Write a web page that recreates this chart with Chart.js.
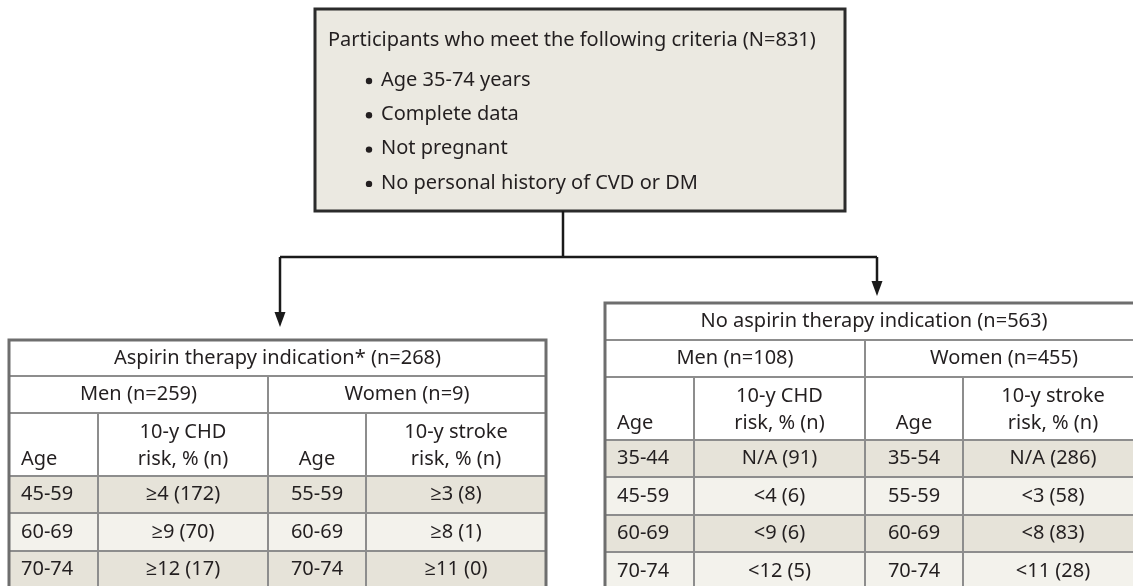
<!DOCTYPE html>
<html>
<head>
<meta charset="utf-8">
<script src="https://cdn.jsdelivr.net/npm/chart.js@4"></script>
<style>
  html, body { margin: 0; padding: 0; background: #fff; }
  #wrap { width: 1133px; height: 586px; position: relative; }
</style>
</head>
<body>
<div id="wrap"><canvas id="chart"></canvas></div>
<script>
// ---- data ----
var criteriaTitle = 'Participants who meet the following criteria (N=831)';
var criteria = ['Age 35-74 years', 'Complete data', 'Not pregnant', 'No personal history of CVD or DM'];

var colHeads = [['Age'], ['10-y CHD', 'risk, % (n)'], ['Age'], ['10-y stroke', 'risk, % (n)']];

var leftTitle = 'Aspirin therapy indication* (n=268)';
var leftGroups = ['Men (n=259)', 'Women (n=9)'];
var leftMenAge = ['45-59', '60-69', '70-74'];
var leftMenRisk = ['\u22654 (172)', '\u22659 (70)', '\u226512 (17)'];
var leftWomenAge = ['55-59', '60-69', '70-74'];
var leftWomenRisk = ['\u22653 (8)', '\u22658 (1)', '\u226511 (0)'];

var rightTitle = 'No aspirin therapy indication (n=563)';
var rightGroups = ['Men (n=108)', 'Women (n=455)'];
var rightMenAge = ['35-44', '45-59', '60-69', '70-74'];
var rightMenRisk = ['N/A (91)', '<4 (6)', '<9 (6)', '<12 (5)'];
var rightWomenAge = ['35-54', '55-59', '60-69', '70-74'];
var rightWomenRisk = ['N/A (286)', '<3 (58)', '<8 (83)', '<11 (28)'];

// ---- layout (figure units, y grows downward) ----
var FONT = '20px "Noto Sans", "Open Sans", sans-serif';
var INK = '#231f20';
var topBox = {x0: 315, x1: 845, y0: 9, y1: 211};
var leftTable = {xs: [9, 98, 268, 366, 546], ys: [340, 376, 413, 476, 513, 551, 588]};
var rightTable = {xs: [605, 694, 865, 963, 1143], ys: [303, 340, 377, 440, 477, 515, 552, 590]};

var flowPlugin = {
  id: 'flow',
  afterDraw: function(chart) {
    var ctx = chart.ctx;
    var sx = chart.scales.x, sy = chart.scales.y;
    var X = function(v) { return sx.getPixelForValue(v); };
    var Y = function(v) { return sy.getPixelForValue(v); };

    function text(s, x, y, align) {
      ctx.fillStyle = INK;
      ctx.font = FONT;
      ctx.textAlign = align || 'left';
      ctx.textBaseline = 'middle';
      ctx.fillText(s, X(x), Y(y));
    }
    function rect(x0, y0, x1, y1, fill) {
      ctx.fillStyle = fill;
      ctx.fillRect(X(x0), Y(y0), X(x1) - X(x0), Y(y1) - Y(y0));
    }
    function line(pts, color, w) {
      ctx.strokeStyle = color;
      ctx.lineWidth = w;
      ctx.beginPath();
      pts.forEach(function(p, i) {
        if (i == 0) ctx.moveTo(X(p[0]), Y(p[1]));
        else ctx.lineTo(X(p[0]), Y(p[1]));
      });
      ctx.stroke();
    }
    function arrowHead(x, tipY) {
      ctx.fillStyle = '#1a1a1a';
      ctx.beginPath();
      ctx.moveTo(X(x), Y(tipY));
      ctx.lineTo(X(x - 5.5), Y(tipY - 15));
      ctx.lineTo(X(x + 5.5), Y(tipY - 15));
      ctx.closePath();
      ctx.fill();
    }

    // top box
    rect(topBox.x0, topBox.y0, topBox.x1, topBox.y1, '#ebe9e1');
    ctx.strokeStyle = '#2b2b2b';
    ctx.lineWidth = 3;
    ctx.strokeRect(X(topBox.x0), Y(topBox.y0), X(topBox.x1) - X(topBox.x0), Y(topBox.y1) - Y(topBox.y0));
    text(criteriaTitle, 328, 40);
    criteria.forEach(function(c, i) {
      var y = 80 + i * 34.3;
      ctx.fillStyle = INK;
      ctx.beginPath();
      ctx.arc(X(369), Y(y + 1), 3.2, 0, Math.PI * 2);
      ctx.fill();
      text(c, 381, y);
    });

    // connectors
    line([[563, 211], [563, 257]], '#1a1a1a', 2.5);
    line([[280, 257], [877, 257]], '#1a1a1a', 2.5);
    line([[280, 257], [280, 314]], '#1a1a1a', 2.5);
    line([[877, 257], [877, 283]], '#1a1a1a', 2.5);
    arrowHead(280, 327);
    arrowHead(877, 296);

    // tables
    function table(t, title, groups, menAge, menRisk, womenAge, womenRisk) {
      var xs = t.xs, ys = t.ys;
      var n = menAge.length;
      var xL = xs[0], xR = xs[4];
      rect(xL, ys[0], xR, ys[3], '#ffffff');
      for (var i = 0; i < n; i++) {
        rect(xL, ys[3 + i], xR, ys[4 + i], i % 2 == 0 ? '#e6e3d9' : '#f3f2ec');
      }
      // inner grid
      var g = '#8d8d8d';
      line([[xL, ys[1]], [xR, ys[1]]], g, 2);
      line([[xL, ys[2]], [xR, ys[2]]], g, 2);
      for (var r = 3; r < ys.length - 1; r++) line([[xL, ys[r]], [xR, ys[r]]], g, 2);
      line([[xs[2], ys[1]], [xs[2], ys[ys.length - 1]]], g, 2);
      line([[xs[1], ys[2]], [xs[1], ys[ys.length - 1]]], g, 2);
      line([[xs[3], ys[2]], [xs[3], ys[ys.length - 1]]], g, 2);
      // outer border
      ctx.strokeStyle = '#6e6e6e';
      ctx.lineWidth = 3;
      ctx.strokeRect(X(xL), Y(ys[0]), X(xR) - X(xL), Y(ys[ys.length - 1]) - Y(ys[0]));

      // texts
      text(title, (xL + xR) / 2, (ys[0] + ys[1]) / 2, 'center');
      text(groups[0], (xs[0] + xs[2]) / 2, (ys[1] + ys[2]) / 2, 'center');
      text(groups[1], (xs[2] + xs[4]) / 2, (ys[1] + ys[2]) / 2, 'center');
      var hb = ys[3] - 17, ht = ys[3] - 44;
      text(colHeads[0][0], xL + 12, hb);
      text(colHeads[1][0], (xs[1] + xs[2]) / 2, ht, 'center');
      text(colHeads[1][1], (xs[1] + xs[2]) / 2, hb, 'center');
      text(colHeads[2][0], (xs[2] + xs[3]) / 2, hb, 'center');
      text(colHeads[3][0], (xs[3] + xs[4]) / 2, ht, 'center');
      text(colHeads[3][1], (xs[3] + xs[4]) / 2, hb, 'center');
      for (var k = 0; k < n; k++) {
        var cy = (ys[3 + k] + ys[4 + k]) / 2;
        text(menAge[k], xL + 12, cy);
        text(menRisk[k], (xs[1] + xs[2]) / 2, cy, 'center');
        text(womenAge[k], (xs[2] + xs[3]) / 2, cy, 'center');
        text(womenRisk[k], (xs[3] + xs[4]) / 2, cy, 'center');
      }
    }
    table(leftTable, leftTitle, leftGroups, leftMenAge, leftMenRisk, leftWomenAge, leftWomenRisk);
    table(rightTable, rightTitle, rightGroups, rightMenAge, rightMenRisk, rightWomenAge, rightWomenRisk);
  }
};

new Chart(document.getElementById('chart'), {
  type: 'scatter',
  data: { datasets: [{ data: [], pointRadius: 0 }] },
  options: {
    responsive: true,
    maintainAspectRatio: false,
    animation: false,
    layout: { padding: 0 },
    plugins: { legend: { display: false }, tooltip: { enabled: false } },
    scales: {
      x: { type: 'linear', min: 0, max: 1133, display: false },
      y: { type: 'linear', min: 0, max: 586, reverse: true, display: false }
    }
  },
  plugins: [flowPlugin]
});
</script>
</body>
</html>
